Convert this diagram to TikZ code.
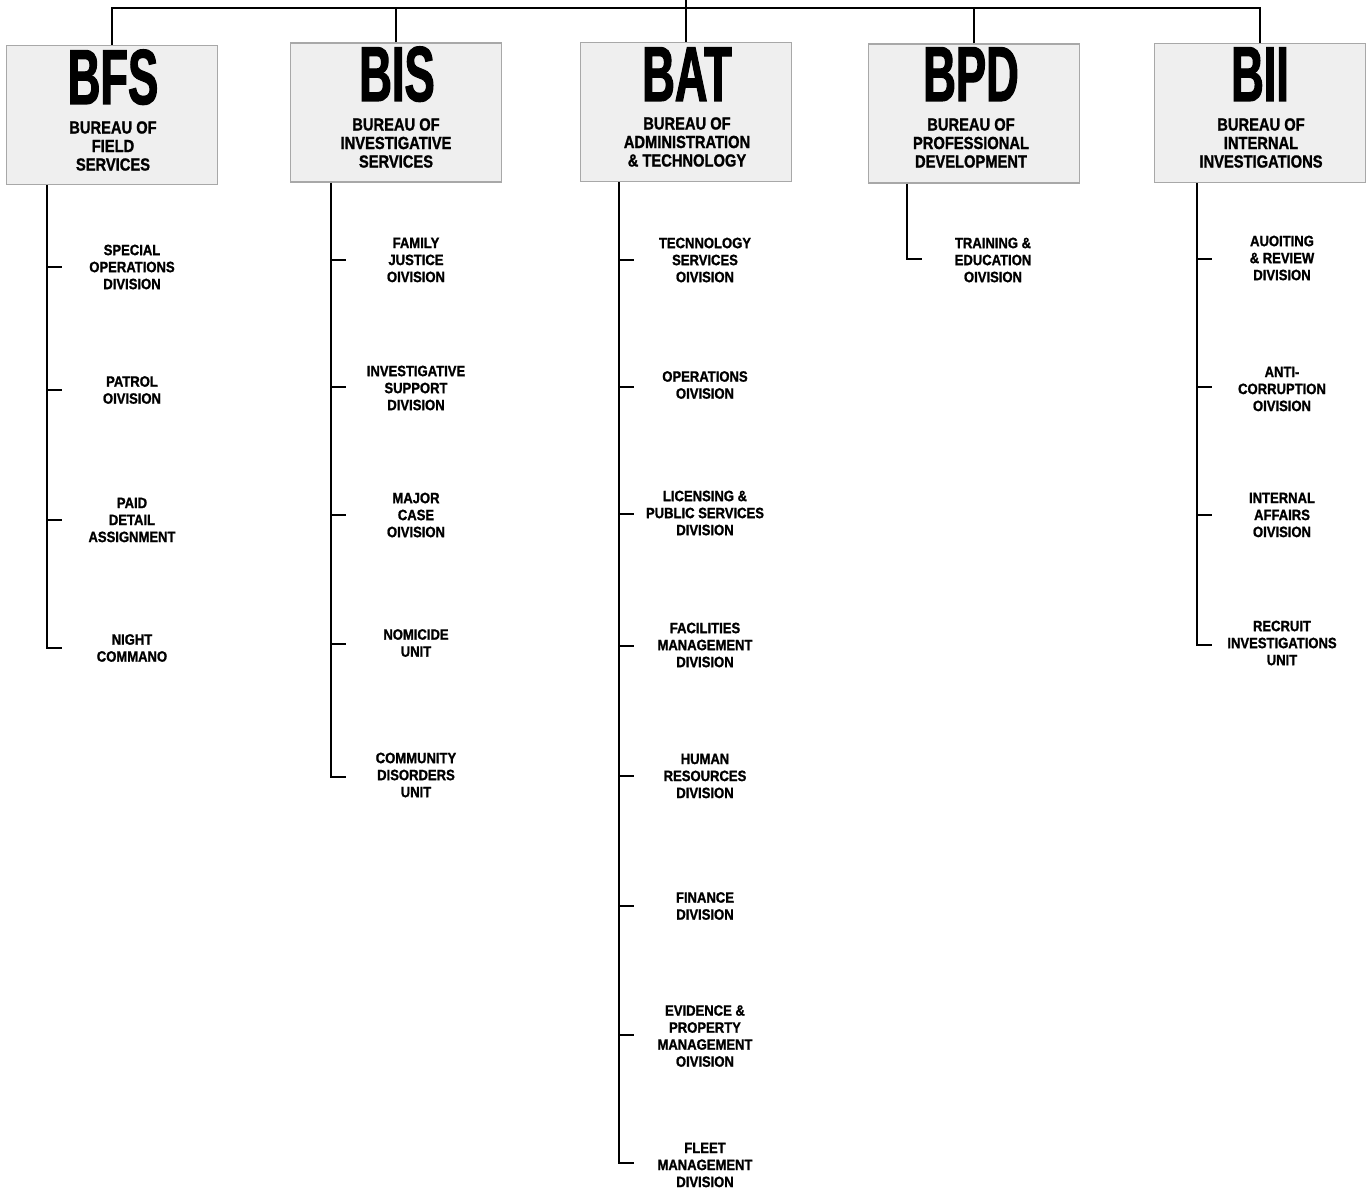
\documentclass[tikz,border=0pt]{standalone}
\usepackage{fontspec}
\setmainfont{Liberation Sans}
\newfontfamily\condfont[FakeStretch=0.87, BoldFeatures={FakeBold=1.2}]{Liberation Sans}
\newfontfamily\namefont[FakeStretch=0.84, BoldFeatures={FakeBold=1.2}]{Liberation Sans}
\newfontfamily\bigfont[FakeStretch=0.58, BoldFeatures={FakeBold=1.5}]{Liberation Sans}
\definecolor{boxfill}{HTML}{EFEFEF}
\definecolor{boxgray}{HTML}{A8A8A8}
\begin{document}
\begin{tikzpicture}[x=1pt,y=-1pt,
  bureau/.style={draw=boxgray, fill=boxfill, line width=1.4pt, minimum width=211pt, minimum height=139pt, inner sep=0pt},
  abbr/.style={font=\bigfont\bfseries\fontsize{78}{78}\selectfont, inner sep=0pt, anchor=base},
  bname/.style={font=\namefont\bfseries\fontsize{17.5}{18.5}\selectfont, align=center, inner sep=0pt},
  unit/.style={font=\condfont\bfseries\fontsize{15}{17}\selectfont, align=center, inner sep=0pt},
  conn/.style={line width=1.6pt, black}]
\useasboundingbox[fill=white] (0,0) rectangle (1368,1190);

% bureau boxes
\node[bureau] (bfs) at (112,115) {};
\node[bureau] (bis) at (396,112.5) {};
\node[bureau] (bat) at (686,112) {};
\node[bureau] (bpd) at (974,113.5) {};
\node[bureau] (bii) at (1260,113) {};

\node[abbr] (bfsA) at (113,104) {BFS};
\node[abbr] (bisA) at (397,101) {BIS};
\node[abbr] (batA) at (687,101) {BAT};
\node[abbr] (bpdA) at (971,101) {BPD};
\node[abbr] (biiA) at (1260,101) {BII};

\node[bname] (bfsN) at (113,146) {BUREAU OF\\FIELD\\SERVICES};
\node[bname] (bisN) at (396,143) {BUREAU OF\\INVESTIGATIVE\\SERVICES};
\node[bname] (batN) at (687,142) {BUREAU OF\\ADMINISTRATION\\\& TECHNOLOGY};
\node[bname] (bpdN) at (971,143) {BUREAU OF\\PROFESSIONAL\\DEVELOPMENT};
\node[bname] (biiN) at (1261,143) {BUREAU OF\\INTERNAL\\INVESTIGATIONS};

% top connector
\coordinate (hl) at (0,8);
\coordinate (t0) at (0,0);
\draw[conn] (bfs.north) -- (bfs.north |- hl) -- (bii.north |- hl) -- (bii.north);
\draw[conn] (bis.north) -- (bis.north |- hl);
\draw[conn] (bpd.north) -- (bpd.north |- hl);
\draw[conn] (bat.north) -- (bat.north |- t0);

% ---------- BFS ----------
\coordinate (bfsx) at (47,0);
\node[unit] (bfs1) at (132,267) {SPECIAL\\OPERATIONS\\DIVISION};
\node[unit] (bfs2) at (132,390) {PATROL\\OIVISION};
\node[unit] (bfs3) at (132,520) {PAID\\DETAIL\\ASSIGNMENT};
\node[unit] (bfs4) at (132,648) {NIGHT\\COMMANO};
\coordinate (bfs1t) at (62,267);
\coordinate (bfs2t) at (62,390);
\coordinate (bfs3t) at (62,520);
\coordinate (bfs4t) at (62,648);
\draw[conn] (bfs.south -| bfsx) |- (bfs4t);
\foreach \i in {1,2,3} \draw[conn] (bfs\i t -| bfsx) -- (bfs\i t);

% ---------- BIS ----------
\coordinate (bisx) at (331,0);
\node[unit] (bis1) at (416,260) {FAMILY\\JUSTICE\\OIVISION};
\node[unit] (bis2) at (416,388) {INVESTIGATIVE\\SUPPORT\\DIVISION};
\node[unit] (bis3) at (416,515) {MAJOR\\CASE\\OIVISION};
\node[unit] (bis4) at (416,643) {NOMICIDE\\UNIT};
\node[unit] (bis5) at (416,775) {COMMUNITY\\DISORDERS\\UNIT};
\coordinate (bis1t) at (346,260);
\coordinate (bis2t) at (346,387);
\coordinate (bis3t) at (346,515);
\coordinate (bis4t) at (346,644);
\coordinate (bis5t) at (346,777);
\draw[conn] (bis.south -| bisx) |- (bis5t);
\foreach \i in {1,2,3,4} \draw[conn] (bis\i t -| bisx) -- (bis\i t);

% ---------- BAT ----------
\coordinate (batx) at (619,0);
\node[unit] (bat1) at (705,260) {TECNNOLOGY\\SERVICES\\OIVISION};
\node[unit] (bat2) at (705,385) {OPERATIONS\\OIVISION};
\node[unit] (bat3) at (705,513) {LICENSING \&\\PUBLIC SERVICES\\DIVISION};
\node[unit] (bat4) at (705,645) {FACILITIES\\MANAGEMENT\\DIVISION};
\node[unit] (bat5) at (705,776) {HUMAN\\RESOURCES\\DIVISION};
\node[unit] (bat6) at (705,906) {FINANCE\\DIVISION};
\node[unit] (bat7) at (705,1036) {EVIDENCE \&\\PROPERTY\\MANAGEMENT\\OIVISION};
\node[unit] (bat8) at (705,1165) {FLEET\\MANAGEMENT\\DIVISION};
\coordinate (bat1t) at (634,260);
\coordinate (bat2t) at (634,387);
\coordinate (bat3t) at (634,514);
\coordinate (bat4t) at (634,646);
\coordinate (bat5t) at (634,776);
\coordinate (bat6t) at (634,906);
\coordinate (bat7t) at (634,1035);
\coordinate (bat8t) at (634,1163);
\draw[conn] (bat.south -| batx) |- (bat8t);
\foreach \i in {1,...,7} \draw[conn] (bat\i t -| batx) -- (bat\i t);

% ---------- BPD ----------
\coordinate (bpdx) at (907,0);
\node[unit] (bpd1) at (993,260) {TRAINING \&\\EDUCATION\\OIVISION};
\coordinate (bpd1t) at (922,259);
\draw[conn] (bpd.south -| bpdx) |- (bpd1t);

% ---------- BII ----------
\coordinate (biix) at (1197,0);
\node[unit] (bii1) at (1282,258) {AUOITING\\\& REVIEW\\DIVISION};
\node[unit] (bii2) at (1282,389) {ANTI-\\CORRUPTION\\OIVISION};
\node[unit] (bii3) at (1282,515) {INTERNAL\\AFFAIRS\\OIVISION};
\node[unit] (bii4) at (1282,643) {RECRUIT\\INVESTIGATIONS\\UNIT};
\coordinate (bii1t) at (1212,259);
\coordinate (bii2t) at (1212,387);
\coordinate (bii3t) at (1212,515);
\coordinate (bii4t) at (1212,645);
\draw[conn] (bii.south -| biix) |- (bii4t);
\foreach \i in {1,2,3} \draw[conn] (bii\i t -| biix) -- (bii\i t);
\end{tikzpicture}
\end{document}
